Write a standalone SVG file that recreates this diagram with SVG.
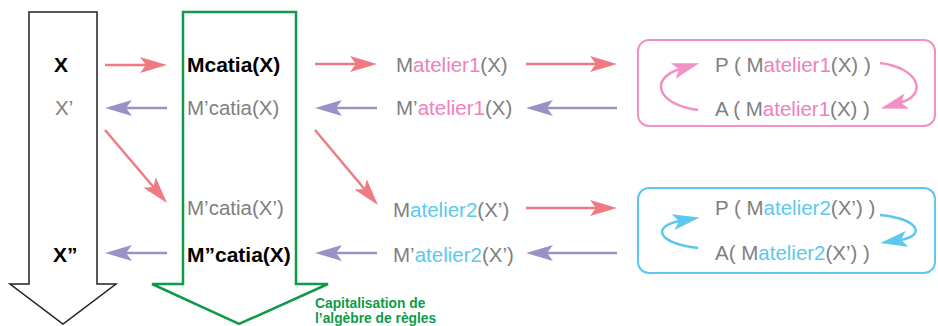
<svg xmlns="http://www.w3.org/2000/svg" width="938" height="326" viewBox="0 0 938 326">
<style>
text{font-family:"Liberation Sans",Arial,sans-serif;font-size:20.5px;fill:#808080}
.b{font-weight:bold;fill:#000;font-size:21px}
.pk{fill:#f07fbd}
.bl{fill:#5cc8f0}
.cap{font-weight:bold;font-size:13.8px;fill:#0e9a48}
.red{stroke:#f07a84;stroke-width:2.5;fill:none;marker-end:url(#hr)}
.pur{stroke:#9a92c6;stroke-width:2.5;fill:none;marker-end:url(#hp)}
.cpk{stroke:#f291c4;stroke-width:2.5;fill:none;marker-end:url(#hk)}
.cbl{stroke:#5cc8f0;stroke-width:2.5;fill:none;marker-end:url(#hb)}
</style>
<defs>
<marker id="hr" viewBox="-8 -9 29 18" refX="0" refY="0" markerWidth="29" markerHeight="18" markerUnits="userSpaceOnUse" orient="auto"><path d="M20,0 L-7,-8 L-1,0 L-7,8 Z" fill="#f07a84"/></marker>
<marker id="hp" viewBox="-8 -9 29 18" refX="0" refY="0" markerWidth="29" markerHeight="18" markerUnits="userSpaceOnUse" orient="auto"><path d="M20,0 L-7,-8 L-1,0 L-7,8 Z" fill="#9a92c6"/></marker>
<marker id="hk" viewBox="-8 -9 29 18" refX="0" refY="0" markerWidth="29" markerHeight="18" markerUnits="userSpaceOnUse" orient="auto"><path d="M20,0 L-7,-8 L-1,0 L-7,8 Z" fill="#f291c4"/></marker>
<marker id="hb" viewBox="-8 -9 29 18" refX="0" refY="0" markerWidth="29" markerHeight="18" markerUnits="userSpaceOnUse" orient="auto"><path d="M20,0 L-7,-8 L-1,0 L-7,8 Z" fill="#5cc8f0"/></marker>
</defs>
<rect width="938" height="326" fill="#fff"/>
<g id="flow-x">
<path d="M29,12 L97,12 L97,284 L116,284 L63,324 L10,284 L29,284 Z" fill="#fff" stroke="#231f20" stroke-width="1.5"/>
</g>
<g id="flow-catia">
<path d="M183,12 L296,12 L296,284 L328,284 L239,324 L152,284 L183,284 Z" fill="#fff" stroke="#0e9a48" stroke-width="2.5"/>
<text class="cap" x="315" y="308">Capitalisation de</text>
<text class="cap" x="315" y="323">l’algèbre de règles</text>
</g>
<g id="x"><text class="b" x="61" y="72" text-anchor="middle">X</text></g>
<g id="x1"><text x="55" y="115">X’</text></g>
<g id="x2"><text class="b" x="53" y="262">X”</text></g>
<g id="mcatia"><text class="b" x="187" y="72">Mcatia(X)</text></g>
<g id="m1catia"><text x="187" y="115">M’catia(X)</text></g>
<g id="m1catia-x1"><text x="187" y="215">M’catia(X’)</text></g>
<g id="m2catia"><text class="b" x="187" y="262">M”catia(X)</text></g>
<g id="matelier1"><text x="396" y="72">M<tspan class="pk">atelier1</tspan>(X)</text></g>
<g id="m1atelier1"><text x="396" y="115">M’<tspan class="pk">atelier1</tspan>(X)</text></g>
<g id="matelier2"><text x="393" y="217">M<tspan class="bl">atelier2</tspan>(X’)</text></g>
<g id="m1atelier2"><text x="393" y="262">M’<tspan class="bl">atelier2</tspan>(X’)</text></g>
<g id="box1">
<rect x="638" y="40" width="297" height="86" rx="11" fill="none" stroke="#f291c4" stroke-width="2"/>
<text x="715" y="72">P ( M<tspan class="pk">atelier1</tspan>(X) )</text>
<text x="715" y="116">A ( M<tspan class="pk">atelier1</tspan>(X) )</text>
<path class="cpk" d="M698,110 C655,104 650,78 680,69"/>
<path class="cpk" d="M880,63 C920,68 928,95 900,103"/>
</g>
<g id="box2">
<rect x="638" y="188" width="297" height="85" rx="11" fill="none" stroke="#5cc8f0" stroke-width="2"/>
<text x="715" y="215">P ( M<tspan class="bl">atelier2</tspan>(X’) )</text>
<text x="715" y="260">A( M<tspan class="bl">atelier2</tspan>(X’) )</text>
<path class="cbl" d="M698,248 C656,243 652,226 680,221"/>
<path class="cbl" d="M880,215 C920,219 926,236 900,240"/>
</g>
<g id="connectors">
<line class="red" x1="105" y1="65" x2="147" y2="65"/>
<line class="pur" x1="167" y1="108" x2="125" y2="108"/>
<line class="red" x1="105" y1="130" x2="154.1" y2="187.8"/>
<line class="pur" x1="167" y1="253" x2="125" y2="253"/>
<line class="red" x1="315" y1="64" x2="357" y2="64"/>
<line class="pur" x1="377" y1="108" x2="335" y2="108"/>
<line class="red" x1="315" y1="130" x2="365.1" y2="189.7"/>
<line class="pur" x1="377" y1="253" x2="335" y2="253"/>
<line class="red" x1="526" y1="64" x2="597" y2="64"/>
<line class="pur" x1="617" y1="108" x2="546" y2="108"/>
<line class="red" x1="526" y1="208" x2="597" y2="208"/>
<line class="pur" x1="617" y1="253" x2="546" y2="253"/>
</g>
</svg>
